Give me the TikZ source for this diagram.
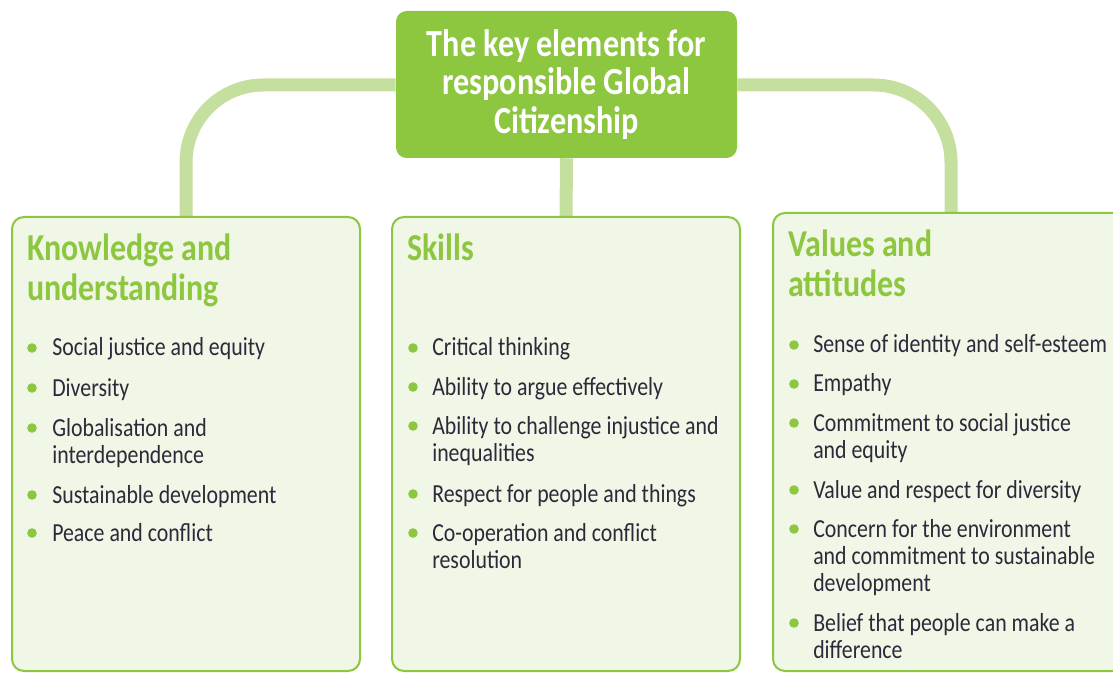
\documentclass[tikz,border=0pt]{standalone}
\usepackage{fontspec}
\setmainfont[FakeStretch=0.84]{Carlito}
\usetikzlibrary{positioning,backgrounds}
\definecolor{leaf}{HTML}{8DC63F}
\definecolor{stem}{HTML}{C5DF9E}
\definecolor{paleleaf}{HTML}{F0F7E6}
\definecolor{ink}{HTML}{2B2A3A}
\tikzset{
  titlebox/.style={fill=leaf, rounded corners=8pt, minimum width=255.75pt, minimum height=110.25pt,
    text=white, align=center, inner sep=0pt, font=\fontsize{28.75}{29}\selectfont\bfseries},
  areabox/.style={draw=leaf, fill=paleleaf, line width=1.5pt, rounded corners=9pt,
    minimum width=261pt, minimum height=340.5pt, inner sep=0pt},
  link/.style={draw=stem, line width=9.75pt, rounded corners=58pt},
  headtext/.style={anchor=base west, inner sep=0pt, text=leaf, align=left,
    font=\fontsize{28.5}{30}\selectfont\bfseries},
  item/.style={anchor=base west, inner sep=0pt, text=ink, align=left,
    font=\fontsize{19.5}{20.25}\selectfont},
  dot/.style={fill=leaf}
}
\begin{document}
\begin{tikzpicture}[x=0.75pt, y=-0.75pt, line join=round, line cap=round]
	\useasboundingbox (0,0) rectangle (1113,673);
	\clip (0,0) rectangle (1113,673);
	%% boxes
	\node[areabox] (know) at (186,444) {};
	\node[areabox] (skills) at (566,444) {};
	\node[areabox, minimum width=267pt, minimum height=343.5pt] (vals) at (951,442) {};
	\node[titlebox] (title) at (566.5,84.5) {The key elements for\\responsible Global\\Citizenship};
	%% connectors
	\begin{scope}[on background layer]
	\path[link] (title.west |- 0,85) -| (know.north);
	\path[link] (title.east |- 0,85) -| (vals.north);
	\path[link] (title.south) -- (skills.north);
	\end{scope}
	%% headings (base = last line)
	\node[headtext] (knowhead) at (27,301) {Knowledge and\\understanding};
	\node[headtext] (skillshead) at (407,261) {Skills};
	\node[headtext] (valshead) at (788,297) {Values and\\attitudes};
	%% lists: first baseline / lines / text
	\foreach \y/\n/\t [count=\i] in {356/1/Social justice and equity, 396/1/Diversity,
		436/2/{Globalisation and\\interdependence}, 503/1/Sustainable development,
		541/1/Peace and conflict}
	{
		\node[item] (k\i) at (52,{\y+27*(\n-1)}) {\t};
		\fill[dot] (32,{\y-8}) circle[radius=3.6pt];
	}
	\foreach \y/\n/\t [count=\i] in {356/1/Critical thinking, 395/1/Ability to argue effectively,
		434/2/{Ability to challenge injustice and\\inequalities}, 502/1/Respect for people and things,
		541/2/{Co-operation and conflict\\resolution}}
	{
		\node[item] (s\i) at (432,{\y+27*(\n-1)}) {\t};
		\fill[dot] (413,{\y-8}) circle[radius=3.6pt];
	}
	\foreach \y/\n/\t [count=\i] in {353/1/Sense of identity and self-esteem, 392/1/Empathy,
		431/2/{Commitment to social justice\\and equity}, 498/1/Value and respect for diversity,
		537/3/{Concern for the environment\\and commitment to sustainable\\development},
		631/2/{Belief that people can make a\\difference}}
	{
		\node[item] (v\i) at (813,{\y+27*(\n-1)}) {\t};
		\fill[dot] (794,{\y-8}) circle[radius=3.6pt];
	}
\end{tikzpicture}
\end{document}
